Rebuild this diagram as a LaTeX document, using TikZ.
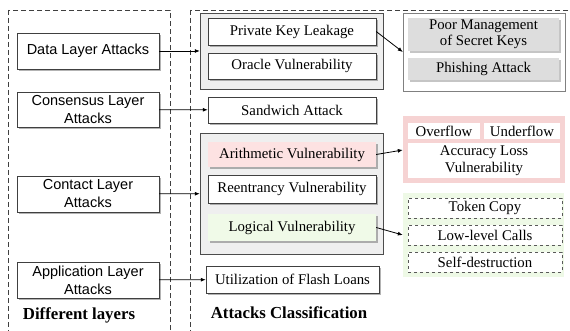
\documentclass[tikz,border=0pt]{standalone}
\usepackage{fontspec}
\setmainfont{Liberation Serif}
\setsansfont{Liberation Sans}
\usetikzlibrary{arrows.meta,shadows}
\definecolor{G1}{RGB}{239,239,239}
\definecolor{G2}{RGB}{221,221,221}
\definecolor{P1}{RGB}{253,226,226}
\definecolor{P2}{RGB}{246,211,211}
\definecolor{V1}{RGB}{240,250,232}
\definecolor{V2}{RGB}{238,249,230}

\begin{document}
\begin{tikzpicture}[x=1pt,y=-1pt,
    layer/.style={draw=black!75, fill=white, align=center, inner sep=1pt,
      minimum width=142pt, minimum height=36pt,
      font=\sffamily\fontsize{14.5}{18}\selectfont,
      drop shadow={shadow xshift=2pt, shadow yshift=-2pt, fill=black!50, opacity=0.6}},
    attack/.style={draw=black!75, fill=white, align=center, inner sep=1pt,
      minimum width=168pt, minimum height=26pt,
      font=\fontsize{14.8}{17}\selectfont,
      drop shadow={shadow xshift=2pt, shadow yshift=-2pt, fill=black!50, opacity=0.6}},
    group/.style={draw=black!70, fill=G1, inner sep=0pt},
    sub/.style={align=center, inner sep=1pt, font=\fontsize{14.8}{16.5}\selectfont},
    title/.style={font=\bfseries\fontsize{16.8}{20}\selectfont},
    outer/.style={draw=black!75, dash pattern=on 5pt off 3pt},
    link/.style={-{Latex[length=5pt,width=4pt]}, thick}]
  \useasboundingbox (0,0) rectangle (570,331);
  % the two dashed frames
  \draw[outer] (8,10) rectangle (170,345);
  \draw[outer] (190,10) rectangle (580,345);
  % different layers
  \node (data) at (88,51) [layer] {Data Layer Attacks};
  \node (cons) at (88,109.5) [layer, minimum height=35pt] {Consensus Layer\\Attacks};
  \node (cont) at (88,194) [layer] {Contact Layer\\Attacks};
  \node (appl) at (88,280) [layer] {Application Layer\\Attacks};
  \node (lyrtitle) at (79,315) [title] {Different layers};
  % attacks classification
  \node (grp1) at (291.5,51) [group, minimum width=183pt, minimum height=76pt] {};
  \node (pkl) at (292,31.5) [attack, minimum height=27pt] {Private Key Leakage};
  \node (orc) at (292,66) [attack] {Oracle Vulnerability};
  \node (sand) at (292,110) [attack] {Sandwich Attack};
  \node (grp2) at (291.5,193.5) [group, minimum width=183pt, minimum height=121pt] {};
  \node (arith) at (292,154.5) [attack, draw=none, fill=P1, minimum height=25pt] {Arithmetic Vulnerability};
  \node (reen) at (292,189) [attack, minimum height=28pt] {Reentrancy Vulnerability};
  \node (logic) at (292,227.5) [attack, draw=none, fill=V1, minimum height=27pt] {Logical Vulnerability};
  \node (flash) at (292.5,279.5) [attack, minimum width=173pt, minimum height=27pt] {Utilization of Flash Loans};
  \node (clstitle) at (289,313) [title] {Attacks Classification};
  % sub-classes
  \node (grp3) at (484,52) [group, draw=black!50, fill=white, minimum width=162pt, minimum height=78pt] {};
  \node (poor) at (483.5,34.5) [sub, fill=G2, minimum width=151pt, minimum height=33pt,
    drop shadow={shadow xshift=2pt, shadow yshift=-2pt, fill=black!45}] {Poor Management\\of Secret Keys};
  \node (phish) at (483.5,69) [sub, fill=G2, minimum width=151pt, minimum height=22pt,
    drop shadow={shadow xshift=2pt, shadow yshift=-2pt, fill=black!45}] {Phishing Attack};
  \node (pink) at (484,150) [fill=P2, minimum width=162pt, minimum height=67pt] {};
  \node (over) at (444,131) [sub, fill=white, minimum width=72pt, minimum height=16pt] {Overflow};
  \node (under) at (522,131) [sub, fill=white, minimum width=76pt, minimum height=16pt] {Underflow};
  \node (acc) at (484,160.5) [sub, fill=white, minimum width=152pt, minimum height=35pt] {Accuracy Loss\\Vulnerability};
  \node (green) at (483.5,235) [fill=V2, minimum width=161pt, minimum height=84pt] {};
  \node (token) at (485,208) [sub, fill=white, draw=black!65, dashed, minimum width=154pt, minimum height=20pt] {Token Copy};
  \node (lowc) at (485,235) [sub, fill=white, draw=black!65, dashed, minimum width=154pt, minimum height=20pt] {Low-level Calls};
  \node (selfd) at (485,262) [sub, fill=white, draw=black!65, dashed, minimum width=154pt, minimum height=20pt] {Self-destruction};
  % connectors
  \draw[link] (data) -- (grp1);
  \draw[link] (cons) -- (sand);
  \draw[link] (cont) -- (grp2);
  \draw[link] (appl) -- (flash);
  \draw[link] (pkl.east) -- (grp3.west);
  \draw[link] (arith.east) -- (pink.west);
  \draw[link] (logic.east) -- (green.west);
\end{tikzpicture}
\end{document}
